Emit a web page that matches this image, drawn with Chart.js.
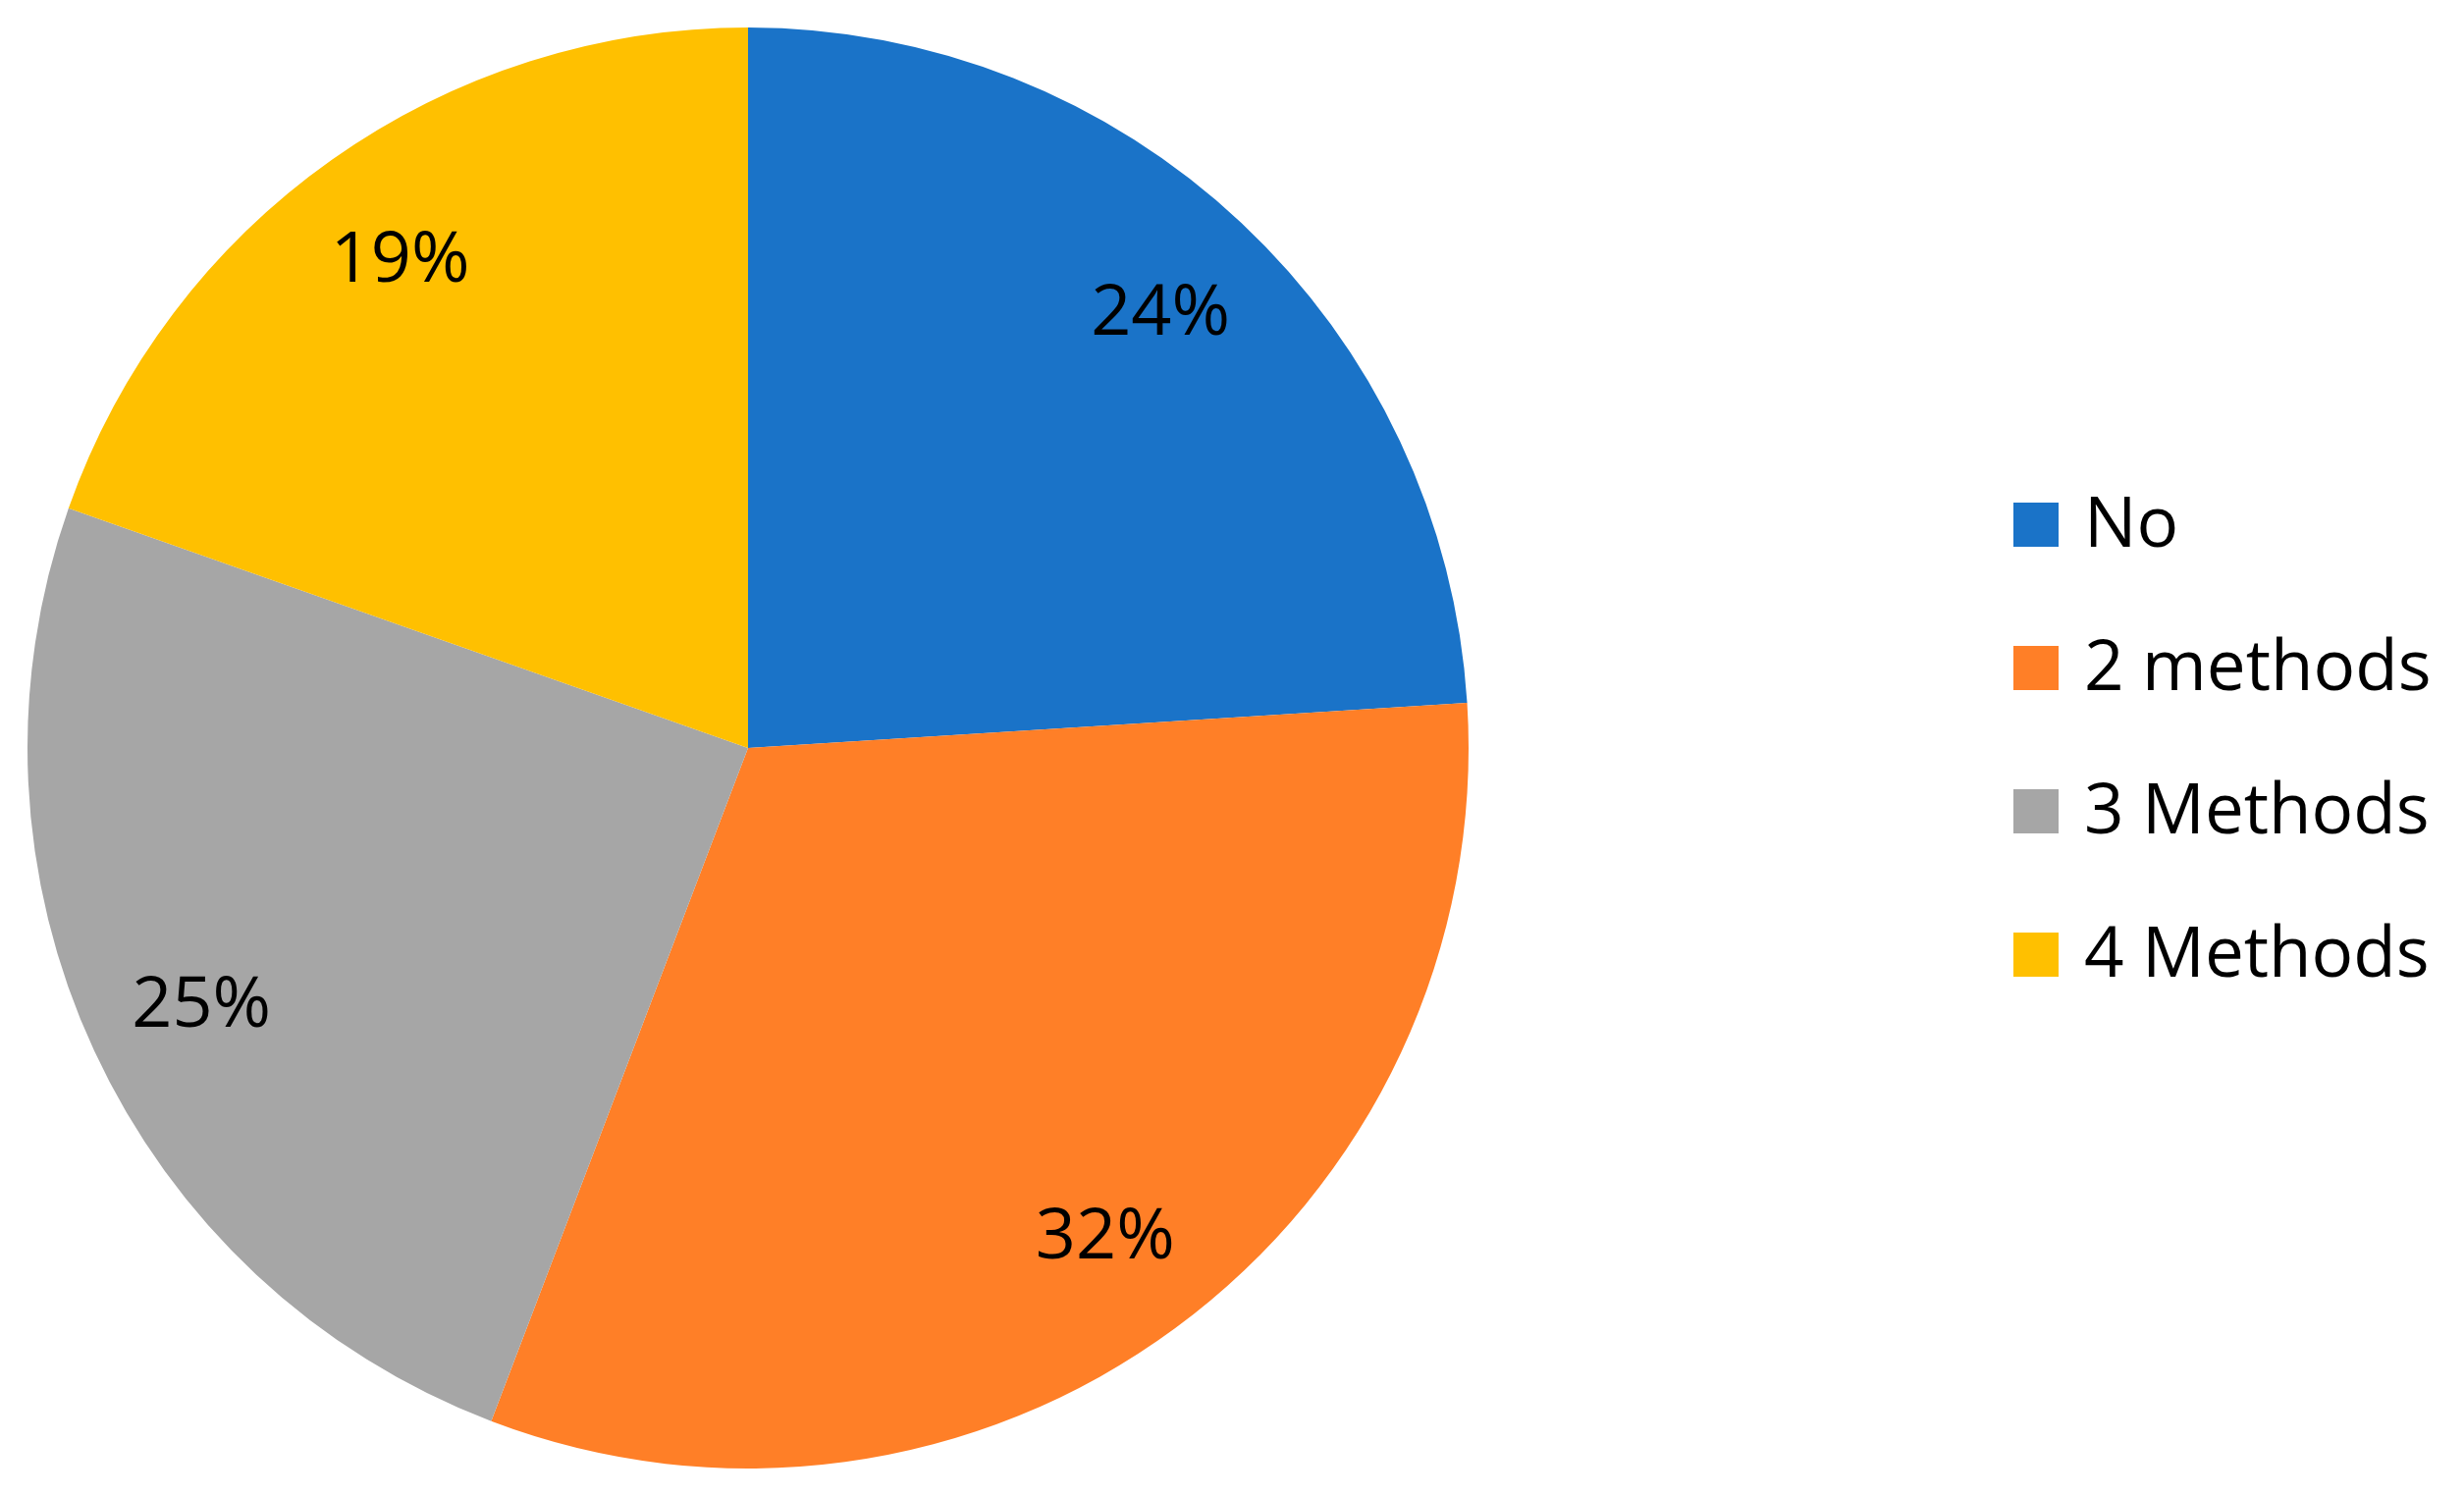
<!DOCTYPE html>
<html>
<head>
<meta charset="utf-8">
<script src="https://cdn.jsdelivr.net/npm/chart.js@4.4.1/dist/chart.umd.min.js"></script>
<style>
  html, body { margin: 0; padding: 0; background: #ffffff; }
  #grafico { display: block; }
</style>
</head>
<body>
<canvas id="grafico" width="2510" height="1524"></canvas>
<script>
// Datos (tamaño de los sectores, etiquetas tal como aparecen)
const categorias = ["No", "2 methods", "3 Methods", "4 Methods"];
const valores = [24.0, 31.8, 24.6, 19.6];
const etiquetas = ["24%", "32%", "25%", "19%"];
const colores = ["#1A73C8", "#FF7F27", "#A6A6A6", "#FFC000"];

const FUENTE = "'Open Sans', 'DejaVu Sans', sans-serif";

// Etiquetas de porcentaje dentro de cada sector
const etiquetasPlugin = {
    id: "etiquetas",
    afterDatasetsDraw(chart) {
        const ctx = chart.ctx;
        const meta = chart.getDatasetMeta(0);
        ctx.save();
        ctx.font = "72px " + FUENTE;
        ctx.fillStyle = "#000000";
        ctx.textAlign = "center";
        ctx.textBaseline = "alphabetic";
        meta.data.forEach((arc, i) => {
            const p = arc.getProps(["x", "y", "startAngle", "endAngle", "outerRadius"], true);
            const medio = (p.startAngle + p.endAngle) / 2;
            const r = p.outerRadius * 0.836;
            const tx = p.x + Math.cos(medio) * r;
            const ty = p.y + Math.sin(medio) * r;
            ctx.fillText(etiquetas[i], tx, ty + 26);
        });
        ctx.restore();
    }
};

// Leyenda a la derecha
const leyendaPlugin = {
    id: "leyenda",
    afterDraw(chart) {
        const ctx = chart.ctx;
        const x0 = 2051, y0 = 512, paso = 146, caja = 46;
        ctx.save();
        ctx.font = "71px " + FUENTE;
        ctx.textAlign = "left";
        ctx.textBaseline = "alphabetic";
        chart.data.labels.forEach((lbl, i) => {
            const y = y0 + i * paso;
            ctx.fillStyle = chart.data.datasets[0].backgroundColor[i];
            ctx.fillRect(x0, y, caja, caja - 1);
            ctx.fillStyle = "#000000";
            ctx.fillText(lbl, x0 + 72, y + caja - 1);
        });
        ctx.restore();
    }
};

const ctx = document.getElementById("grafico").getContext("2d");
new Chart(ctx, {
    type: "pie",
    data: {
        labels: categorias,
        datasets: [{
            data: valores,
            backgroundColor: colores,
            borderWidth: 0
        }]
    },
    options: {
        responsive: false,
        animation: false,
        layout: { padding: { left: 28, right: 1014, top: 27, bottom: 27 } },
        plugins: {
            legend: { display: false },
            tooltip: { enabled: false }
        }
    },
    plugins: [etiquetasPlugin, leyendaPlugin]
});
</script>
</body>
</html>
